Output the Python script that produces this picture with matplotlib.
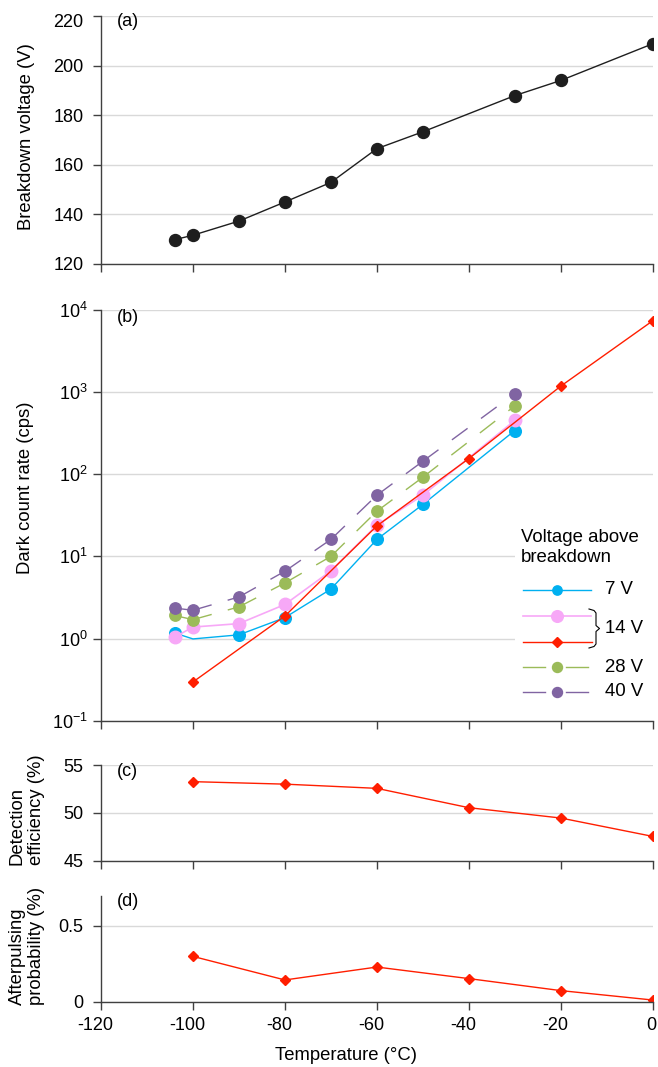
import matplotlib
matplotlib.use('Agg')
import matplotlib.pyplot as plt
from matplotlib.ticker import NullLocator
from matplotlib.transforms import ScaledTranslation
from matplotlib.patches import Rectangle

plt.rcParams['font.family'] = ['Liberation Sans', 'DejaVu Sans']
plt.rcParams['mathtext.fontset'] = 'custom'
plt.rcParams['mathtext.rm'] = 'Liberation Sans'
plt.rcParams['axes.unicode_minus'] = False
plt.rcParams['lines.scale_dashes'] = False

# ---------------- data ----------------
temp_vbd = [-104, -100, -90, -80, -70, -60, -50, -30, -20, 0]
vbd = [129.8, 131.6, 137.3, 145.0, 152.9, 166.5, 173.3, 187.9, 194.0, 208.8]

temp_dcr = [-104, -100, -90, -80, -70, -60, -50, -30]
dcr_7v = [1.17, 0.99, 1.11, 1.80, 4.0, 16.1, 42.9, 341]
dcr_14v = [1.04, 1.38, 1.52, 2.6, 6.66, 24.0, 55.6, 452]
dcr_28v = [1.91, 1.70, 2.43, 4.75, 10.0, 35.5, 92.0, 680]
dcr_40v = [2.35, 2.21, 3.21, 6.6, 16.1, 55.6, 144.0, 960]

temp_red = [-100, -80, -60, -40, -20, 0]
dcr_14v_b = [0.296, 1.88, 23.5, 155, 1183, 7390]
det_eff = [53.26, 53.0, 52.56, 50.54, 49.46, 47.54]
afterpulse = [0.300, 0.145, 0.230, 0.154, 0.075, 0.013]

x_ticks = [-120, -100, -80, -60, -40, -20, 0]
x_ticklabels = ['-120', '-100', '-80', '-60', '-40', '-20', '0']
yticks_a = [120, 140, 160, 180, 200, 220]
yticks_b = [0.1, 1, 10, 100, 1000, 10000]
yticklabels_b = [r'$\mathregular{10^{-1}}$', r'$\mathregular{10^{0}}$', r'$\mathregular{10^{1}}$',
                 r'$\mathregular{10^{2}}$', r'$\mathregular{10^{3}}$', r'$\mathregular{10^{4}}$']
yticks_c = [45, 50, 55]
yticks_d = [0, 0.5]
legend_labels = ['7 V', '14 V', '28 V', '40 V']

# ---------------- style ----------------
BLUE = '#00b0f0'
PINK = '#f7a8f7'
RED = '#ff1e00'
GREEN = '#9bbb59'
PURPLE = '#8064a2'
DARK = '#1e1e1e'
AXC = '#404040'
GRID = '#d9d9d9'
FS = 13

W, H = 658, 1067
fig = plt.figure(figsize=(W / 100, H / 100), dpi=100)


def rect(top, bottom, left=101, right=652.7):
    return [left / W, 1 - bottom / H, (right - left) / W, (bottom - top) / H]


ax_a = fig.add_axes(rect(16, 264))
ax_b = fig.add_axes(rect(310, 720.7))
ax_c = fig.add_axes(rect(765, 860.7))
ax_d = fig.add_axes(rect(895.6, 1002))


def style(ax, ypad=7.0):
    for s in ['top', 'right']:
        ax.spines[s].set_visible(False)
    for s in ['left', 'bottom']:
        ax.spines[s].set_color(AXC)
        ax.spines[s].set_linewidth(1.0)
        ax.spines[s].set_zorder(10)
    ax.set_xlim(-120, 0)
    ax.set_xticks(x_ticks)
    ax.tick_params(axis='both', direction='out', length=5.5, width=1.0, color=AXC,
                   labelsize=FS, labelcolor='black')
    ax.tick_params(axis='y', pad=ypad)
    ax.tick_params(axis='x', pad=5)
    ax.grid(axis='y', color=GRID, lw=1.0)
    ax.grid(axis='x', visible=False)
    ax.set_axisbelow(True)
    ax.set_facecolor('none')


# panel a
style(ax_a)
ax_a.plot(temp_vbd, vbd, color=DARK, lw=1.0, marker='o', ms=8.6, mec=DARK, mfc=DARK, zorder=3)
ax_a.set_ylim(120, 220)
ax_a.set_yticks(yticks_a)
ax_a.set_xticklabels([])
top_lab = ax_a.get_yticklabels()[-1]
top_lab.set_transform(top_lab.get_transform() + ScaledTranslation(0, -4.5 / 100, fig.dpi_scale_trans))

# panel b
style(ax_b, ypad=4.0)
ax_b.set_yscale('log')
ax_b.set_ylim(0.1, 10000)
ax_b.set_yticks(yticks_b)
ax_b.set_yticklabels(yticklabels_b)
ax_b.yaxis.set_minor_locator(NullLocator())
ax_b.set_xticks(x_ticks)
ax_b.set_xticklabels([])

ax_b.plot(temp_dcr, dcr_7v, color=BLUE, lw=1.0, marker='o', ms=8.4, mec=BLUE, mfc=BLUE,
          markevery=[0, 2, 3, 4, 5, 6, 7], zorder=3)
ax_b.plot(temp_dcr, dcr_14v, color=PINK, lw=1.2, marker='o', ms=9.0, mec=PINK, mfc=PINK, zorder=4)
ax_b.plot(temp_red, dcr_14v_b, color=RED, lw=1.0, marker='D', ms=5.2, mec=RED, mfc=RED, zorder=5)
for series, col, z in [(dcr_28v, GREEN, 6), (dcr_40v, PURPLE, 7)]:
    for i in range(len(temp_dcr) - 1):
        ax_b.plot(temp_dcr[i:i + 2], series[i:i + 2], color=col, lw=1.0,
                  dashes=(14, 12), zorder=z)
    ax_b.plot(temp_dcr, series, ls='none', marker='o', ms=8.2, mec=col, mfc=col, zorder=z)

# panel c
style(ax_c)
ax_c.plot(temp_red, det_eff, color=RED, lw=1.0, marker='D', ms=4.9, mec=RED, mfc=RED, zorder=3)
ax_c.set_ylim(45, 55)
ax_c.set_yticks(yticks_c)
ax_c.set_xticklabels([])

# panel d
style(ax_d)
ax_d.plot(temp_red, afterpulse, color=RED, lw=1.0, marker='D', ms=4.9, mec=RED, mfc=RED, zorder=3)
ax_d.set_ylim(0, 0.7)
ax_d.set_yticks(yticks_d)
ax_d.set_yticklabels(['0', '0.5'])
ax_d.set_xticklabels(x_ticklabels)
for lab in ax_d.get_xticklabels():
    dx = -5.5 if lab.get_text().startswith('-') else -1.5
    lab.set_transform(lab.get_transform() + ScaledTranslation(dx / 100, 0, fig.dpi_scale_trans))

# ---------------- overlay: labels & legend (pixel coordinates) ----------------
ov = fig.add_axes([0, 0, 1, 1])
ov.set_xlim(0, W)
ov.set_ylim(H, 0)
ov.axis('off')
ov.patch.set_alpha(0)

for txt, y in [('(a)', 21), ('(b)', 318), ('(c)', 772), ('(d)', 902)]:
    ov.text(117, y, txt, fontsize=FS, ha='left', va='center')

ov.text(27, 137, 'Breakdown voltage (V)', rotation=90, fontsize=13.3, ha='center', va='center')
ov.text(26, 488, 'Dark count rate (cps)', rotation=90, fontsize=13.3, ha='center', va='center')
ov.text(27, 810, 'Detection\nefficiency (%)', rotation=90, fontsize=13.3, ha='center', va='center',
        multialignment='left', linespacing=1.17)
ov.text(27, 946, 'Afterpulsing\nprobability (%)', rotation=90, fontsize=13.3, ha='center', va='center',
        multialignment='left', linespacing=1.17)
ov.text(346, 1056, 'Temperature (°C)', fontsize=13.3, ha='center', va='center')

# legend box
ov.add_patch(Rectangle((515, 500), 145, 208, facecolor='white', edgecolor='none', zorder=1))
ov.text(521, 537, 'Voltage above', fontsize=13.4, ha='left', va='center', zorder=3)
ov.text(521, 557, 'breakdown', fontsize=13.4, ha='left', va='center', zorder=3)

xl0, xl1, xm = 522.7, 591, 556.7
ov.plot([xl0, xl1], [590, 590], color=BLUE, lw=1.0, zorder=3)
ov.plot([xm], [590], marker='o', ms=6.7, color=BLUE, zorder=4)
ov.plot([xl0, xl1], [615.7, 615.7], color=PINK, lw=1.2, zorder=3)
ov.plot([xm], [615.7], marker='o', ms=8.4, color=PINK, zorder=4)
ov.plot([xl0, xl1 + 1], [642.3, 642.3], color=RED, lw=1.0, zorder=3)
ov.plot([xm], [642.3], marker='D', ms=4.8, color=RED, zorder=4)
for y, col in [(666.7, GREEN), (691.7, PURPLE)]:
    ov.plot([xl0, 545], [y, y], color=col, lw=1.0, zorder=3)
    ov.plot([566, 588], [y, y], color=col, lw=1.0, zorder=3)
    ov.plot([xm], [y], marker='o', ms=7.2, color=col, zorder=4)

ov.text(605, 590, legend_labels[0], fontsize=13.4, ha='left', va='center', zorder=3)
ov.text(605, 628.5, legend_labels[1], fontsize=13.4, ha='left', va='center', zorder=3)
ov.text(605, 667, legend_labels[2], fontsize=13.4, ha='left', va='center', zorder=3)
ov.text(605, 692, legend_labels[3], fontsize=13.4, ha='left', va='center', zorder=3)

brace_x = [589, 594, 596, 596, 599.5, 596, 596, 594, 589]
brace_y = [609, 610.5, 613, 625.5, 628.5, 631.5, 644, 646.5, 648]
ov.plot(brace_x, brace_y, color='black', lw=0.8, zorder=3)

fig.savefig('out.png', dpi=100)
